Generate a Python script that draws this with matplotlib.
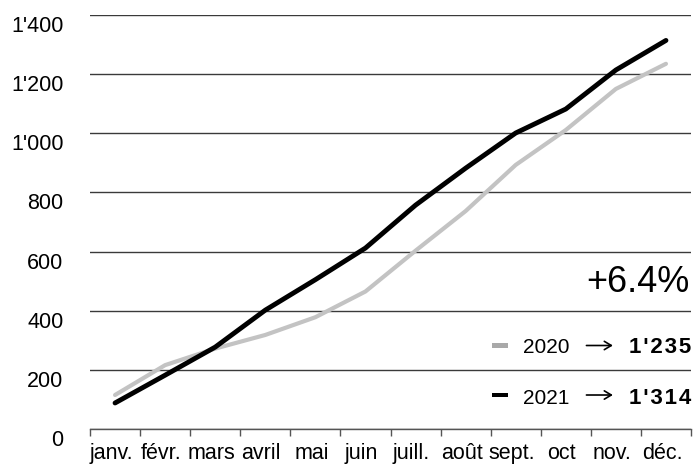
import matplotlib
matplotlib.use('Agg')
from matplotlib import pyplot as plt
from matplotlib.patches import Rectangle
from matplotlib.transforms import ScaledTranslation

plt.rcParams['font.family'] = ['Liberation Sans', 'DejaVu Sans']

months = ['janv.', 'févr.', 'mars', 'avril', 'mai', 'juin',
          'juill.', 'août', 'sept.', 'oct', 'nov.', 'déc.']
values_2020 = [115, 216, 272, 318, 378, 465, 603, 737, 893, 1011, 1150, 1235]
values_2021 = [88, 182, 277, 402, 505, 612, 757, 882, 1001, 1082, 1214, 1314]
y_ticks = [0, 200, 400, 600, 800, 1000, 1200, 1400]
change_label = '+6.4%'

GREY = '#c3c3c3'
HAIR = '\u200a'


def _fmt(v):
    return f'{v:,}'.replace(',', "'")


fig = plt.figure(figsize=(6.94, 4.66), dpi=100)
ax = fig.add_axes([90 / 694, 37 / 466, 601 / 694, 414 / 466])

x = list(range(len(months)))
ax.plot(x, values_2020, color=GREY, linewidth=3.0, solid_capstyle='round', solid_joinstyle='round', zorder=3)
ax.plot(x, values_2021, color='black', linewidth=3.5, solid_capstyle='round', solid_joinstyle='round', zorder=4)

ax.set_xlim(-0.5, len(months) - 0.5)
ax.set_ylim(0, 1400)

# y axis: gridlines, labels sit a bit below the line
ax.set_yticks(y_ticks)
ax.set_yticklabels([_fmt(v) for v in y_ticks])
ax.tick_params(axis='y', length=0, pad=19, labelsize=15.5)
ax.yaxis.grid(True, color='#3a3a3a', linewidth=1.0)
ax.set_axisbelow(True)
down = ScaledTranslation(0, -9 / 100, fig.dpi_scale_trans)
for lbl in ax.get_yticklabels():
    lbl.set_transform(lbl.get_transform() + down)

# x axis: labels at the middle, ticks on the boundaries
ax.set_xticks(x)
ax.set_xticklabels(months)
ax.tick_params(axis='x', which='major', length=0, pad=10, labelsize=15.5)
ax.set_xticks([i - 0.5 for i in range(len(months) + 1)], minor=True)
ax.tick_params(axis='x', which='minor', length=5, width=1.0, color='#555555')
left = ScaledTranslation(-4 / 100, 0, fig.dpi_scale_trans)
for lbl in ax.get_xticklabels():
    lbl.set_transform(lbl.get_transform() + left)

for side in ['top', 'right', 'left']:
    ax.spines[side].set_visible(False)
ax.spines['bottom'].set_color('#555555')
ax.spines['bottom'].set_linewidth(1.0)

# annotation and legend
ax.text(0.997, 0.331, change_label, transform=ax.transAxes, ha='right', va='baseline', fontsize=26)

legend_rows = [('2020', values_2020[-1], '#a9a9a9', 0.1836, 0.2017),
               ('2021', values_2021[-1], 'black', 0.060, 0.0821)]
for year, last, colour, base, mid in legend_rows:
    ax.add_patch(Rectangle((0.669, mid - 0.006), 0.0266, 0.012, transform=ax.transAxes,
                           facecolor=colour, edgecolor='none', clip_on=False))
    ax.text(0.7205, base, year, transform=ax.transAxes, ha='left', va='baseline', fontsize=15)
    ax.annotate('', xy=(0.870, mid), xytext=(0.826, mid), xycoords='axes fraction',
                arrowprops=dict(arrowstyle='->, head_length=0.5, head_width=0.3', color='black',
                                linewidth=1.2, shrinkA=0, shrinkB=0))
    ax.text(1.0, base, HAIR.join(_fmt(last)), transform=ax.transAxes, ha='right', va='baseline',
            fontsize=16, fontweight='bold')

fig.savefig('out.png', dpi=100, facecolor='white')
